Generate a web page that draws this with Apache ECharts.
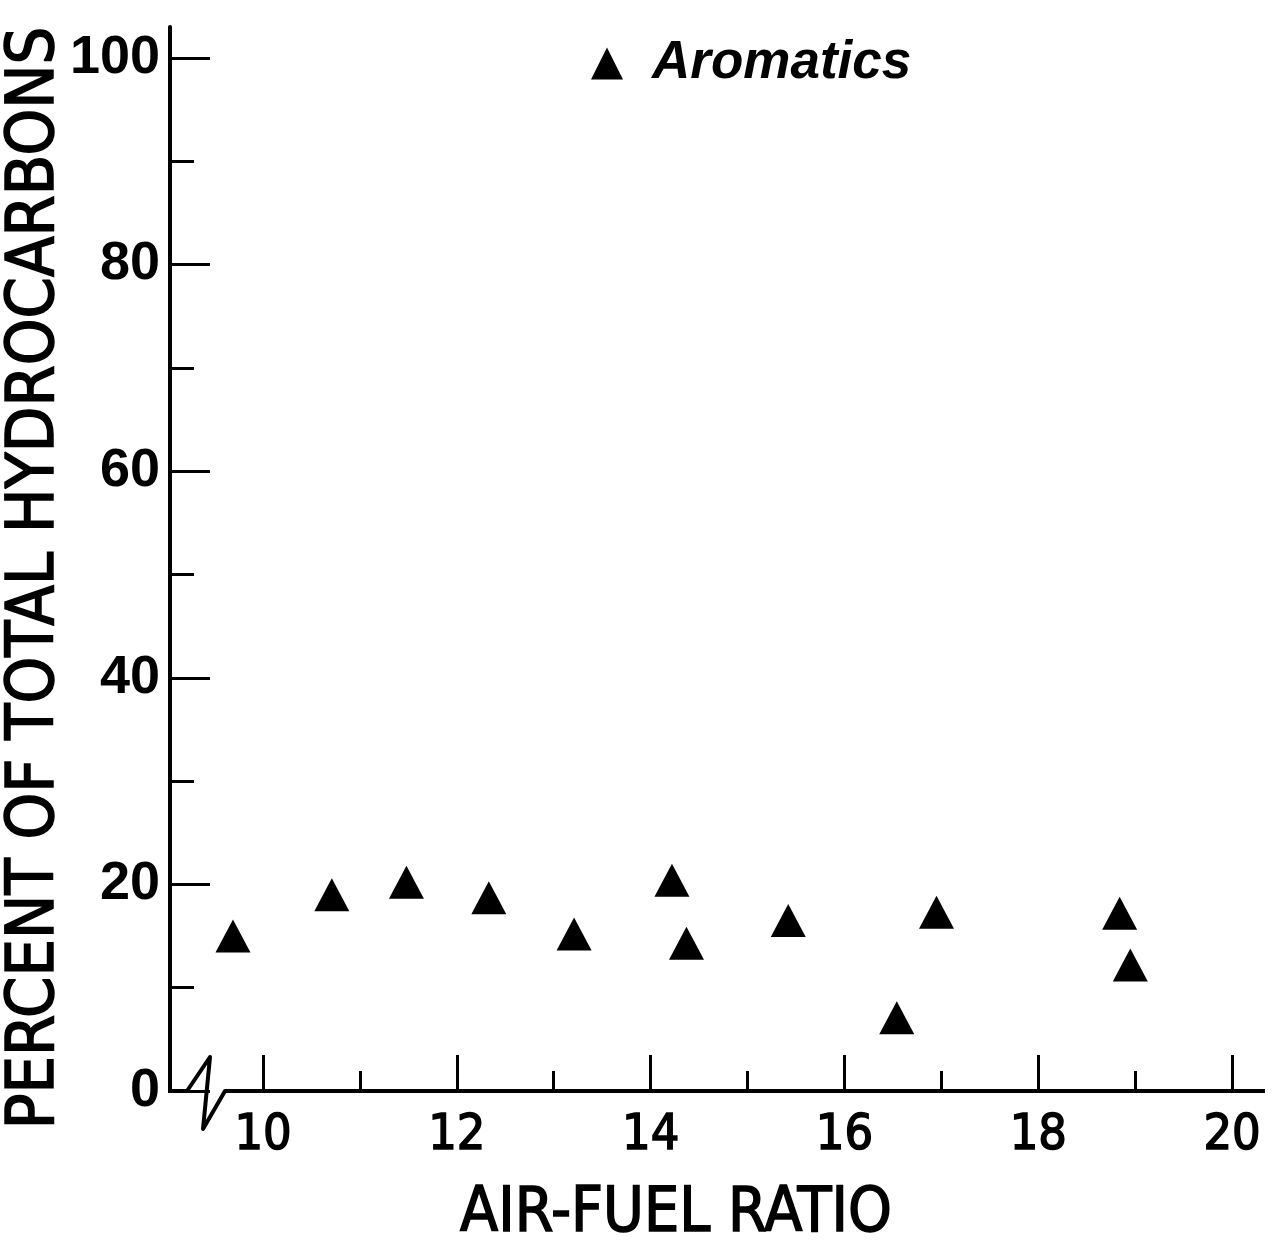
<!DOCTYPE html>
<html>
  <head>
    <meta charset="utf-8">
    <title>Aromatics vs air-fuel ratio</title>
    <style>
        *{ padding: 0; margin: 0; }
        body{ background-color: #ffffff; }
        #chart{ width: 1286px; height: 1248px; }
    </style>
  </head>
  <body>
    <div id="chart"></div>
    <script type="text/javascript" src="https://cdn.jsdelivr.net/npm/echarts@6/dist/echarts.min.js"></script>
    <script type="text/javascript">
        // data
        var airFuel   = [9.69, 10.71, 11.48, 12.33, 13.21, 14.22, 14.37, 15.42, 16.54, 16.95, 18.84, 18.95];
        var aromatics = [15.0, 19.0, 20.2, 18.7, 15.2, 20.4, 14.3, 16.5, 7.1, 17.3, 17.2, 12.2];
        var xMajor = [10, 12, 14, 16, 18, 20];
        var xMinor = [11, 13, 15, 17, 19];
        var yMajor = [0, 20, 40, 60, 80, 100];
        var yMinor = [10, 30, 50, 70, 90];

        var points = [];
        for (var i = 0; i < airFuel.length; i++) {
            points.push([airFuel[i], aromatics[i]]);
        }

        var xMin = 9.04, xMax = 20.34, yMin = 0, yMax = 103;
        var ink = '#000000';
        var condensed = '"DejaVu Sans Condensed", "DejaVu Sans", sans-serif';

        var myChart = echarts.init(document.getElementById('chart'));
        var option = {
            backgroundColor: '#ffffff',
            animation: false,
            grid: { left: 170, right: 21, top: 27, bottom: 157 },
            legend: {
                left: 586,
                top: 32,
                itemWidth: 32,
                itemHeight: 32,
                icon: 'triangle',
                data: ['Aromatics'],
                itemStyle: { color: ink, opacity: 1 },
                textStyle: {
                    color: ink,
                    fontFamily: 'Liberation Sans, Arial, sans-serif',
                    fontStyle: 'italic',
                    fontWeight: 'bold',
                    fontSize: 53,
                    padding: [0, 0, 0, 24]
                }
            },
            xAxis: [{
                type: 'value',
                min: xMin,
                max: xMax,
                axisLine: { show: false },
                splitLine: { show: false },
                axisTick: {
                    inside: true,
                    length: 36,
                    customValues: xMajor,
                    lineStyle: { color: ink, width: 3 }
                },
                axisLabel: {
                    customValues: xMajor,
                    margin: 20,
                    color: ink,
                    fontFamily: condensed,
                    fontSize: 50,
                    textBorderColor: ink,
                    textBorderWidth: 1.5
                }
            }, {
                type: 'value',
                min: xMin,
                max: xMax,
                position: 'bottom',
                axisLine: { show: false },
                splitLine: { show: false },
                axisLabel: { show: false },
                axisTick: {
                    inside: true,
                    length: 20,
                    customValues: xMinor,
                    lineStyle: { color: ink, width: 3 }
                }
            }],
            yAxis: [{
                type: 'value',
                min: yMin,
                max: yMax,
                axisLine: { show: true, lineStyle: { color: ink, width: 4 } },
                splitLine: { show: false },
                axisTick: {
                    inside: true,
                    length: 40,
                    customValues: yMajor,
                    lineStyle: { color: ink, width: 3 }
                },
                axisLabel: {
                    customValues: yMajor,
                    margin: 10,
                    color: ink,
                    fontFamily: 'Liberation Sans, Arial, sans-serif',
                    fontWeight: 'bold',
                    fontSize: 54
                }
            }, {
                type: 'value',
                min: yMin,
                max: yMax,
                position: 'left',
                axisLine: { show: false },
                splitLine: { show: false },
                axisLabel: { show: false },
                axisTick: {
                    inside: true,
                    length: 24,
                    customValues: yMinor,
                    lineStyle: { color: ink, width: 3 }
                }
            }],
            series: [{
                name: 'Aromatics',
                type: 'scatter',
                xAxisIndex: 0,
                yAxisIndex: 0,
                symbol: 'triangle',
                symbolSize: [35, 33],
                itemStyle: { color: ink, opacity: 1 },
                data: points
            }]
        };
        myChart.setOption(option);

        // x axis line with the break mark near the origin, axis titles
        var origin = myChart.convertToPixel({ gridIndex: 0 }, [xMin, 0]);
        var end = myChart.convertToPixel({ gridIndex: 0 }, [xMax, 0]);
        var ox = origin[0], oy = origin[1];
        myChart.setOption({
            graphic: [{
                type: 'polyline',
                shape: {
                    points: [
                        [ox - 2, oy], [ox + 17, oy], [ox + 40, oy - 34],
                        [ox + 33, oy + 38], [ox + 55, oy], [end[0], oy]
                    ]
                },
                style: { stroke: ink, lineWidth: 4, fill: null, lineJoin: 'round' }
            }, {
                type: 'text',
                x: (455 + 897) / 2,
                y: 1215,
                style: {
                    text: 'AIR-FUEL RATIO',
                    fill: ink,
                    stroke: ink,
                    lineWidth: 1.5,
                    font: '62px ' + condensed,
                    textAlign: 'center',
                    textVerticalAlign: 'middle'
                }
            }, {
                type: 'text',
                x: 36,
                y: 578,
                rotation: Math.PI / 2,
                style: {
                    text: 'PERCENT OF TOTAL HYDROCARBONS',
                    fill: ink,
                    stroke: ink,
                    lineWidth: 1.5,
                    font: '66px ' + condensed,
                    textAlign: 'center',
                    textVerticalAlign: 'middle'
                }
            }]
        });
    </script>
  </body>
</html>
